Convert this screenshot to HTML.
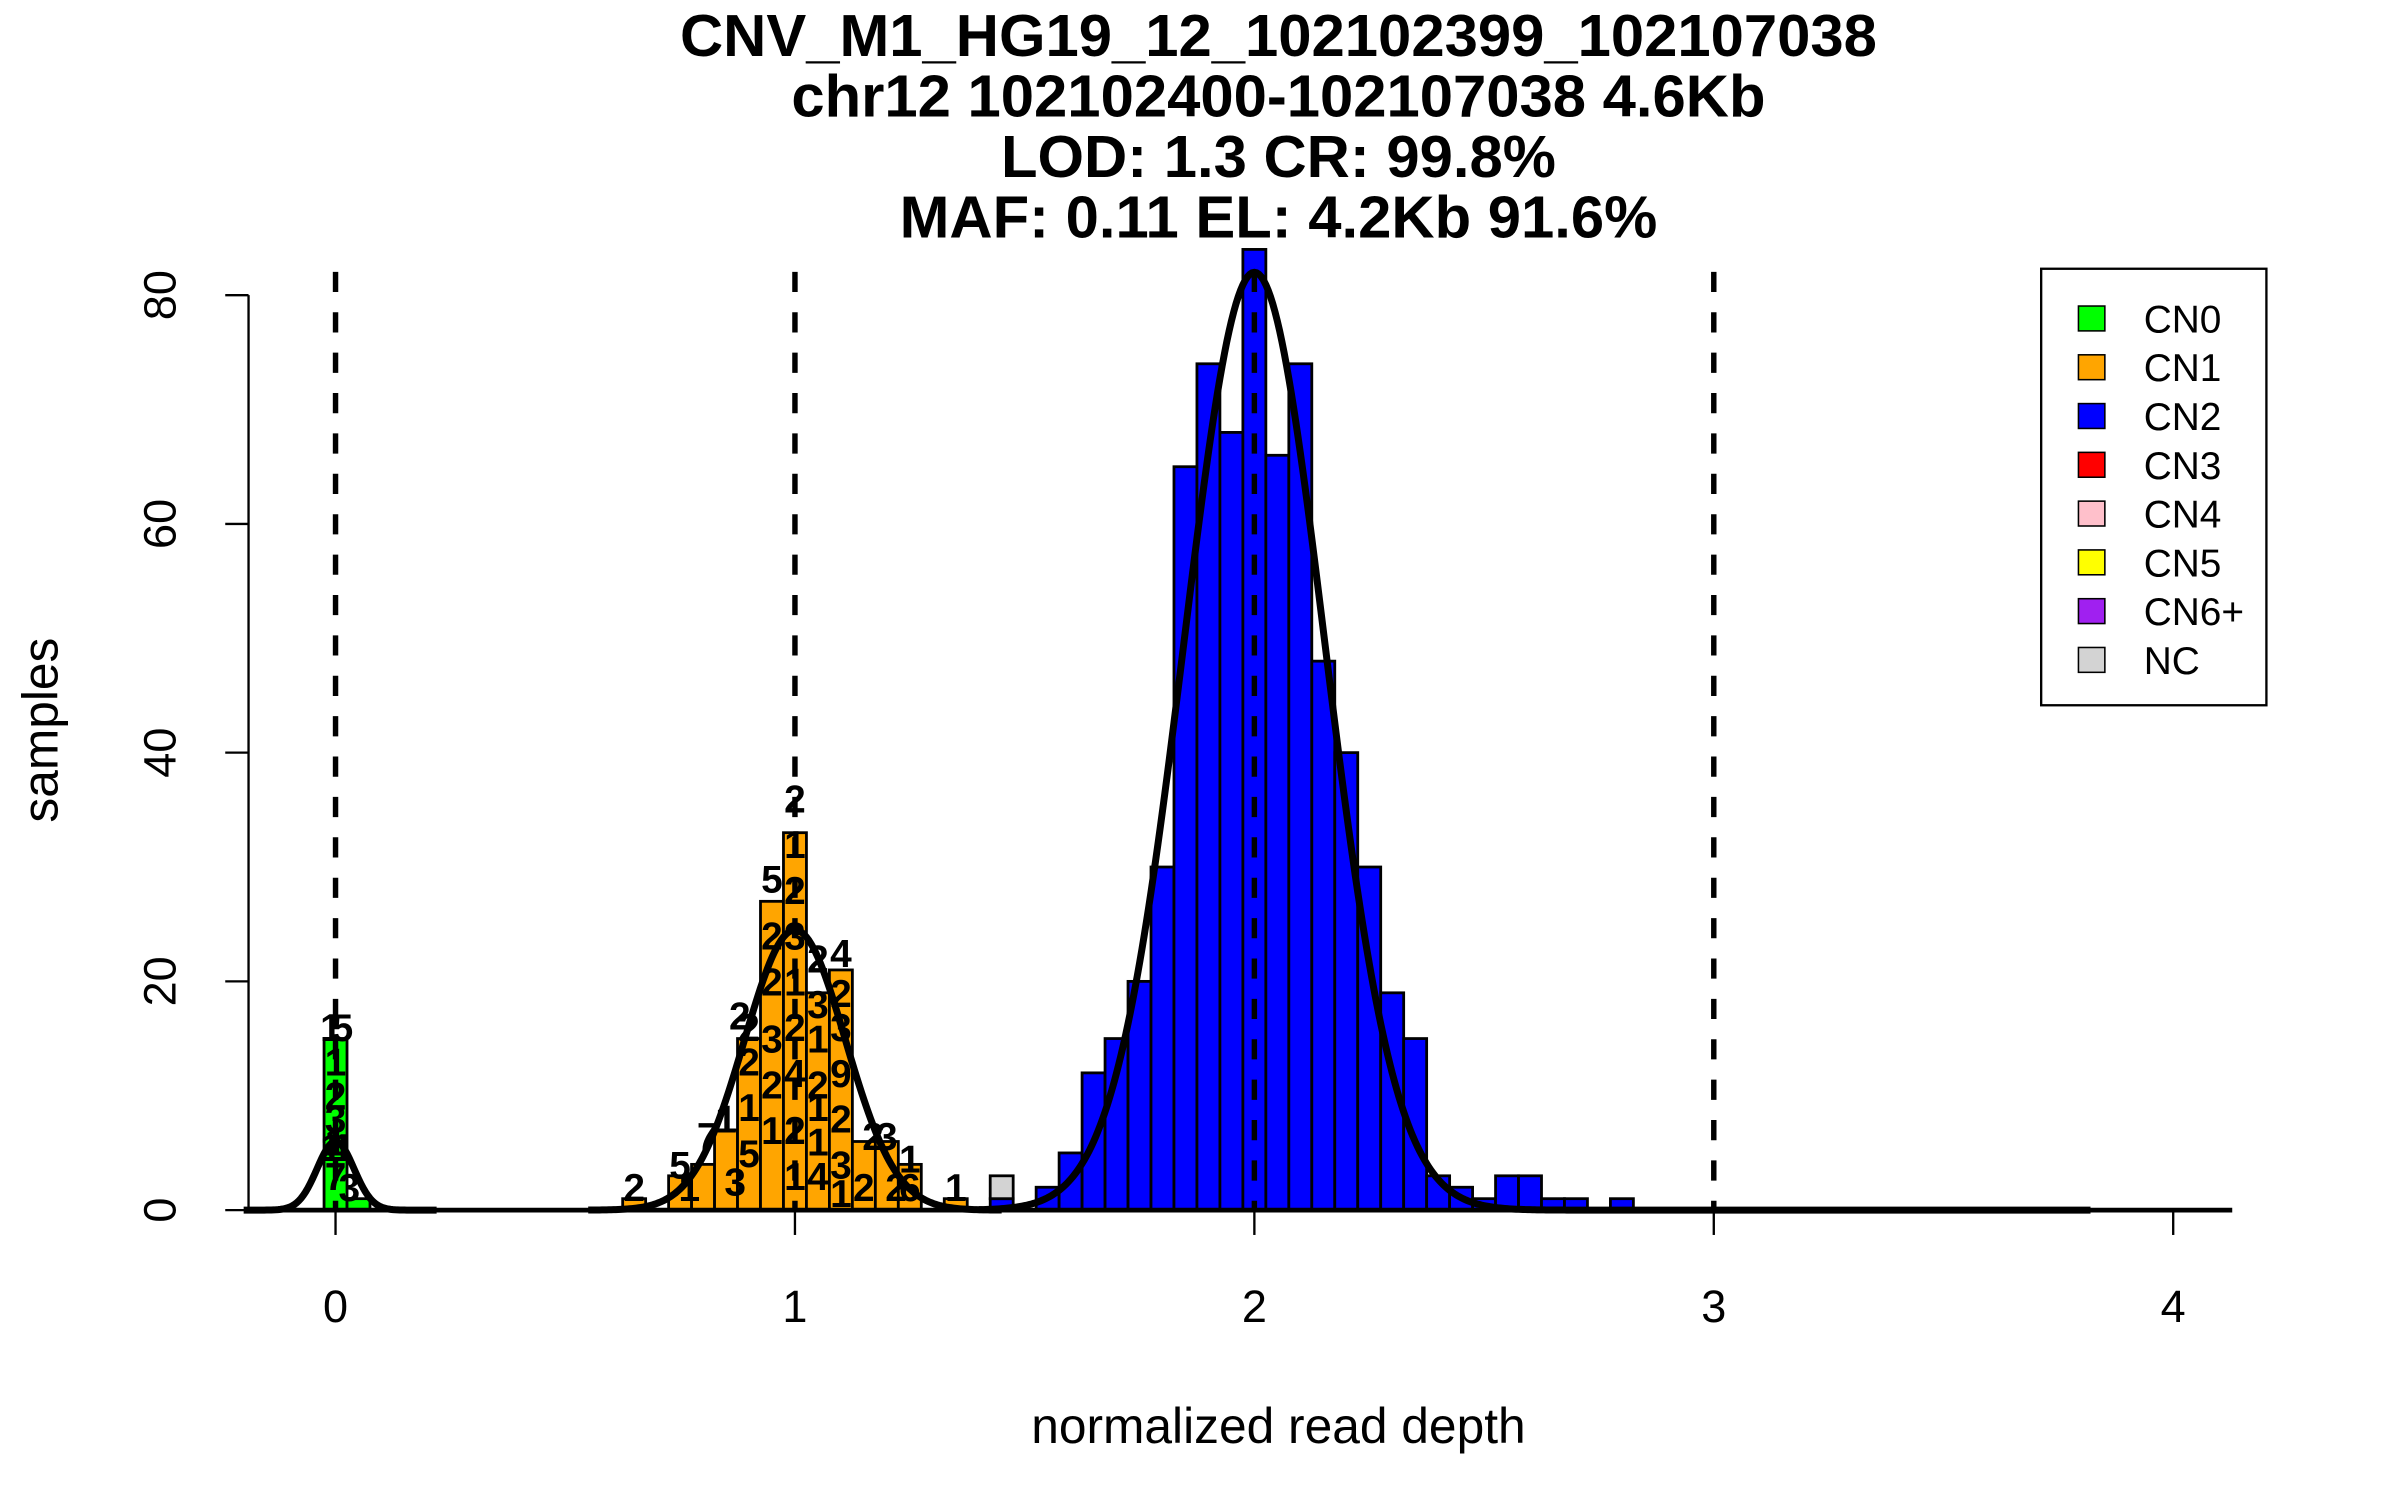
<!DOCTYPE html>
<html><head><meta charset="utf-8"><style>
html,body{margin:0;padding:0;background:#fff;}
svg{display:block;font-family:"Liberation Sans",Arial,sans-serif;}
</style></head><body>
<svg id="chart" width="2400" height="1500" viewBox="0 0 1545 965.6" xmlns="http://www.w3.org/2000/svg">
<g font-weight="bold" font-size="38.5" text-anchor="middle">
<text x="823" y="36">CNV_M1_HG19_12_102102399_102107038</text>
<text x="823" y="75">chr12 102102400-102107038 4.6Kb</text>
<text x="823" y="114">LOD: 1.3 CR: 99.8%</text>
<text x="823" y="153">MAF: 0.11 EL: 4.2Kb 91.6%</text>
</g>
<text x="823" y="929" font-size="32" text-anchor="middle">normalized read depth</text>
<text transform="translate(37,470) rotate(-90)" font-size="32" text-anchor="middle">samples</text>
<g id="bars"></g>
<g id="labels" font-weight="bold" font-size="25" text-anchor="middle"></g>
<g id="curves"></g>
<g id="axes"></g>
<g id="legend"></g>
</svg>
<script>
const binCenters = [0.00,0.05,0.65,0.75,0.80,0.85,0.90,0.95,1.00,1.05,1.10,1.15,1.20,1.25,1.35,1.45,1.45,1.55,1.60,1.65,1.70,1.75,1.80,1.85,1.90,1.95,2.00,2.05,2.10,2.15,2.20,2.25,2.30,2.35,2.40,2.45,2.50,2.55,2.60,2.65,2.70,2.80];
const binCounts  = [15,1,1,3,4,7,15,27,33,19,21,6,6,4,1,1,2,2,5,12,15,20,30,65,74,68,84,66,74,48,40,30,19,15,3,2,1,3,3,1,1,1];
const binBase    = [0,0,0,0,0,0,0,0,0,0,0,0,0,0,0,0,1,0,0,0,0,0,0,0,0,0,0,0,0,0,0,0,0,0,0,0,0,0,0,0,0,0];
const binClass   = ["CN0","CN0","CN1","CN1","CN1","CN1","CN1","CN1","CN1","CN1","CN1","CN1","CN1","CN1","CN1","CN2","NC","CN2","CN2","CN2","CN2","CN2","CN2","CN2","CN2","CN2","CN2","CN2","CN2","CN2","CN2","CN2","CN2","CN2","CN2","CN2","CN2","CN2","CN2","CN2","CN2","CN2"];
const curveMeans = [0,1,2];
const curvePeaks = [6,24.5,82];
const curveSds   = [0.04,0.11,0.153];
const curveFrom  = [-0.2,0.55,1.4];
const curveTo    = [0.22,1.45,3.82];
const xTicks = [0,1,2,3,4];
const yTicks = [0,20,40,60,80];
const dashLines = [0,1,2,3];
const legendLabels = ["CN0","CN1","CN2","CN3","CN4","CN5","CN6+","NC"];
const legendColors = ["#00ff00","#ffa500","#0000ff","#ff0000","#ffc0cb","#ffff00","#a020f0","#d3d3d3"];
const labelX = [-0.01,0.015,0.0,0.0,0.0,0.0,-0.01,0.015,0.0,0.03,0.65,0.75,0.77,0.81,0.85,0.87,0.9,0.9,0.9,0.88,0.9,0.95,0.95,0.95,0.95,0.95,0.95,1.0,1.0,1.0,1.0,1.0,1.0,1.0,1.0,1.0,1.05,1.05,1.05,1.05,1.05,1.05,1.05,1.1,1.1,1.1,1.1,1.1,1.1,1.1,1.17,1.2,1.25,1.15,1.22,1.25,1.35];
const labelY = [16,16,13,10,8,6,5.5,5.5,3,2,2,4,2,6.5,8,2.5,9,13,16,17,5,29,24,20,15,11,7,36,32,28,24,20,16,12,7,3,22,18,15,11,6,3,9,22.5,19,16,12,8,4,1.5,6.5,6.5,4.5,2,2,2,2];
const labelText = ["1","5","1","2","3","1","1","1","7","3","2","5","1","7","1","3","1","2","2","2","5","5","2","2","3","2","1","2","1","2","3","1","2","4","2","1","2","3","1","2","1","4","1","4","2","3","9","2","3","1","2","3","1","2","2","6","1"];
const colorOf = {CN0:"#00ff00",CN1:"#ffa500",CN2:"#0000ff",NC:"#d3d3d3"};
const NS="http://www.w3.org/2000/svg";
const X=v=>216+v*295.75, Y=v=>779-v*7.3625, BW=0.05*295.75;
function mk(t,a,p){const e=document.createElementNS(NS,t);for(const k in a)e.setAttribute(k,a[k]);p.appendChild(e);return e;}
const bars=document.getElementById('bars');
binCenters.forEach((c,i)=>{
  const r=mk('rect',{x:X(c)-BW/2,y:Y(binBase[i]+binCounts[i]),width:BW,height:binCounts[i]*7.3625,fill:colorOf[binClass[i]],stroke:'#000','stroke-width':1.8},bars);
  
  
});
const lab=document.getElementById('labels');
labelText.forEach((t,i)=>{
  const e=mk('text',{x:X(labelX[i]),y:Y(labelY[i])+9},lab);e.textContent=t;
  
  
});
const axes=document.getElementById('axes');
dashLines.forEach(v=>{
  const l=mk('line',{x1:X(v),x2:X(v),y1:175,y2:779,stroke:'#000','stroke-width':3.5,'stroke-dasharray':'13,13'},axes);
  
  
});
const curves=document.getElementById('curves');
curveMeans.forEach((m,i)=>{
  let d='';
  for(let x=curveFrom[i];x<=curveTo[i]+1e-9;x+=0.005){const y=curvePeaks[i]*Math.exp(-((x-m)**2)/(2*curveSds[i]**2));d+=(d?'L':'M')+X(x).toFixed(2)+','+Y(y).toFixed(2);}
  const p=mk('path',{d:d,fill:'none',stroke:'#000','stroke-width':4.5},curves);
  
  
});
const base=mk('line',{x1:160,x2:1437,y1:779,y2:779,stroke:'#000','stroke-width':3},axes);


const yl=mk('line',{x1:160,x2:160,y1:Y(80),y2:Y(0),stroke:'#000','stroke-width':1.5},axes);


xTicks.forEach(v=>{
  mk('line',{x1:X(v),x2:X(v),y1:779,y2:795,stroke:'#000','stroke-width':1.5},axes);
  const t=mk('text',{x:X(v),y:851,'font-size':29,'text-anchor':'middle'},axes);t.textContent=v;
  
  
});
yTicks.forEach(v=>{
  mk('line',{x1:145,x2:160,y1:Y(v),y2:Y(v),stroke:'#000','stroke-width':1.5},axes);
  const t=mk('text',{transform:`translate(113,${Y(v)}) rotate(-90)`,'font-size':29,'text-anchor':'middle'},axes);t.textContent=v;
  
  
});
const lg=document.getElementById('legend');
mk('rect',{x:1314,y:173,width:145,height:281,fill:'#fff',stroke:'#000','stroke-width':1.5},lg);
legendLabels.forEach((n,i)=>{
  const y=205+i*31.4;
  const s=mk('rect',{x:1338,y:y-8,width:17,height:16,fill:legendColors[i],stroke:'#000','stroke-width':1},lg);
  
  
  const t=mk('text',{x:1380,y:y+9,'font-size':25},lg);t.textContent=n;
  
  
});
</script>
</body></html>
